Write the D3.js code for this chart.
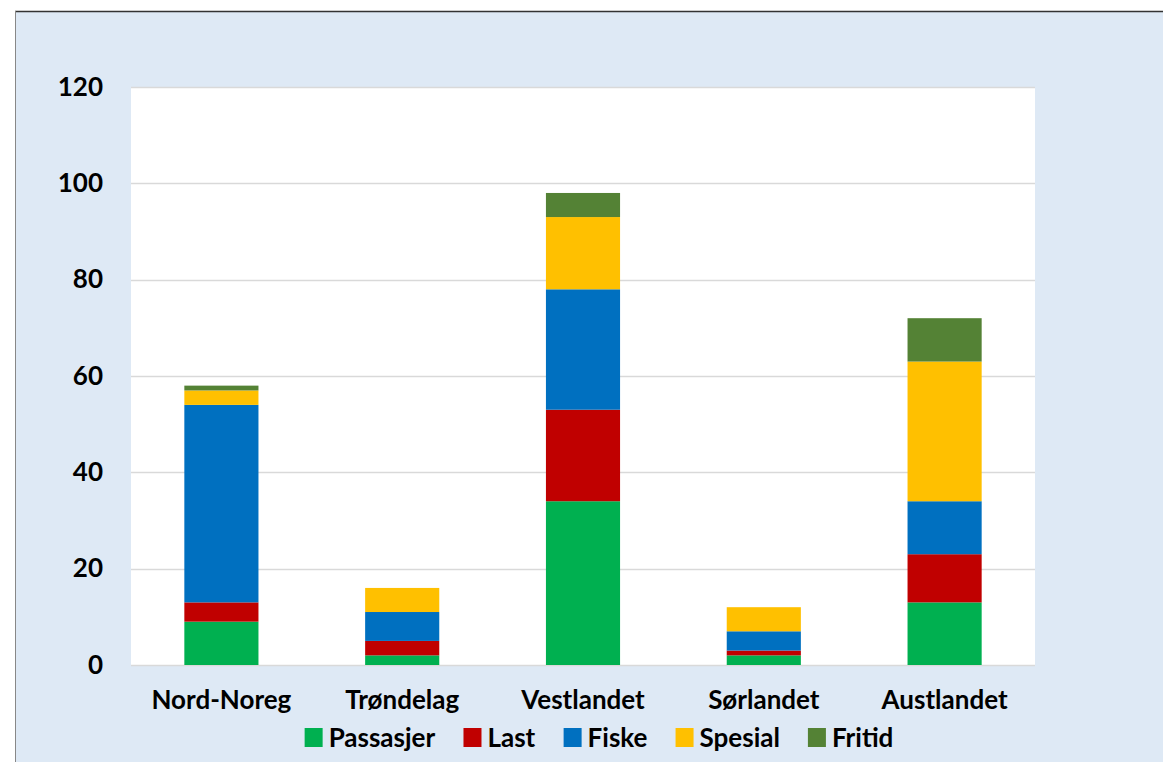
<!DOCTYPE html>
<html><head><meta charset="utf-8">
<script src="https://cdn.jsdelivr.net/npm/d3@7"></script>
<style>
html,body{margin:0;padding:0;background:#fff;}
svg text{font-family:Lato,"Open Sans",sans-serif;font-weight:700;fill:#000;}
</style></head>
<body><svg id="c" width="1163" height="762"></svg>
<script>
const categories = ["Nord-Noreg","Trøndelag","Vestlandet","Sørlandet","Austlandet"];
const seriesNames = ["Passasjer","Last","Fiske","Spesial","Fritid"];
const passasjer = [9, 2, 34, 2, 13];
const last      = [4, 3, 19, 1, 10];
const fiske     = [41, 6, 25, 4, 11];
const spesial   = [3, 5, 15, 5, 29];
const fritid    = [1, 0, 5, 0, 9];
const colors = ["#00B050","#C00000","#0070C0","#FFC000","#548235"];
const yTicks = [0,20,40,60,80,100,120];

const svg = d3.select("#c");
// background panel
svg.append("rect").attr("x",15).attr("y",11).attr("width",1148).attr("height",751).attr("fill","#DEE9F5");
svg.append("line").attr("x1",15).attr("x2",1163).attr("y1",11.5).attr("y2",11.5).attr("stroke","#333").attr("stroke-width",1.5);
svg.append("line").attr("x1",15.5).attr("x2",15.5).attr("y1",11).attr("y2",762).attr("stroke","#888").attr("stroke-width",1);

const plot = {x0:131, x1:1035, y0:87, y1:665};
svg.append("rect").attr("x",plot.x0).attr("y",plot.y0).attr("width",plot.x1-plot.x0).attr("height",plot.y1-plot.y0).attr("fill","#fff");

const x = d3.scaleBand().domain(categories).range([plot.x0,plot.x1]).paddingInner(0.59).paddingOuter(0.295);
const y = d3.scaleLinear().domain([0,120]).range([plot.y1,plot.y0]);

// gridlines
svg.append("g").selectAll("line").data(yTicks).join("line")
  .attr("x1",plot.x0).attr("x2",plot.x1)
  .attr("y1",d=>Math.round(y(d))+0.5).attr("y2",d=>Math.round(y(d))+0.5)
  .attr("stroke","#D9D9D9").attr("stroke-width",1.5);

const rows = categories.map((c,i)=>({cat:c, Passasjer:passasjer[i], Last:last[i], Fiske:fiske[i], Spesial:spesial[i], Fritid:fritid[i]}));
const stack = d3.stack().keys(seriesNames)(rows);
svg.append("g").selectAll("g").data(stack).join("g").attr("fill",(d,i)=>colors[i])
  .selectAll("rect").data(d=>d).join("rect")
  .attr("x",d=>x(d.data.cat)).attr("width",x.bandwidth())
  .attr("y",d=>y(d[1])).attr("height",d=>y(d[0])-y(d[1]));

// y axis
const ya = svg.append("g").attr("transform",`translate(${plot.x0},0)`)
  .call(d3.axisLeft(y).tickValues(yTicks).tickSize(0).tickPadding(28));
ya.select(".domain").remove();
ya.selectAll("text").attr("font-size",26).attr("fill","#000").style("font-family","Lato, sans-serif").style("font-weight",700);

// x axis
const xa = svg.append("g").attr("transform",`translate(0,${plot.y1})`)
  .call(d3.axisBottom(x).tickSize(0).tickPadding(26));
xa.select(".domain").remove();
xa.selectAll("text").attr("font-size",26).attr("fill","#000").style("font-family","Lato, sans-serif").style("font-weight",700);

// legend
const lg = svg.append("g");
const items = lg.selectAll("g").data(seriesNames).join("g");
items.append("rect").attr("width",18).attr("height",19).attr("y",-9.5).attr("fill",(d,i)=>colors[i]);
items.append("text").attr("x",24).attr("dy","0.36em").attr("font-size",26).text(d=>d);
const gap = 28;
const widths = items.nodes().map(n=>n.getBBox().width);
const total = d3.sum(widths) + gap*(widths.length-1);
let start = 599 - total/2;
items.attr("transform",(d,i)=>{ const t=`translate(${start},737.5)`; start += widths[i]+gap; return t; });
</script></body></html>
